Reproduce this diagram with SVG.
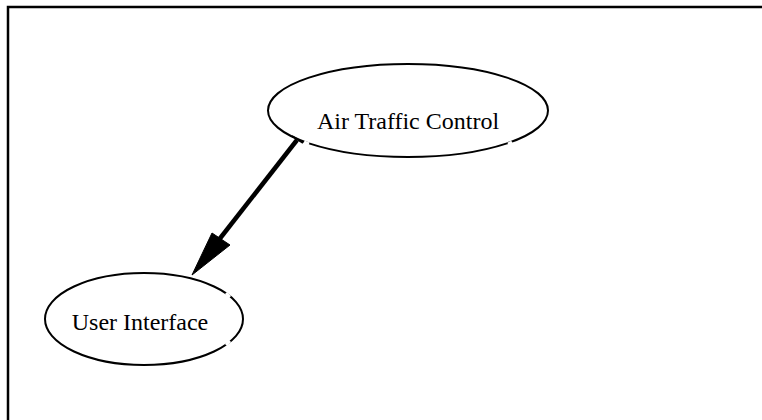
<svg xmlns="http://www.w3.org/2000/svg" width="762" height="420" viewBox="0 0 762 420">
  <style>
    .frame { fill: none; stroke: #000; stroke-width: 2.5; }
    .node ellipse { fill: #fff; stroke: #000; stroke-width: 2; }
    .node text { font-family: "Liberation Serif", "Times New Roman", serif; font-size: 24px; fill: #000; text-anchor: middle; }
    .edge { stroke: #000; stroke-width: 4.5; fill: none; }
    .head { fill: #000; stroke: #000; stroke-width: 1; }
    .gap { stroke: #fff; stroke-width: 3; }
  </style>

  <!-- open frame: top and left sides only -->
  <path class="frame" d="M 8 420 L 8 7 L 762 7"/>

  <g id="node-air-traffic-control" class="node">
    <ellipse cx="408" cy="110.5" rx="140" ry="46.5"/>
    <line class="gap" x1="304" y1="142" x2="309" y2="144"/>
    <line class="gap" x1="508" y1="144" x2="512" y2="142"/>
    <text x="408" y="129">Air Traffic Control</text>
  </g>

  <g id="node-user-interface" class="node">
    <ellipse cx="144" cy="319" rx="99" ry="46"/>
    <line class="gap" x1="226" y1="293" x2="230" y2="297"/>
    <line class="gap" x1="226" y1="345" x2="230" y2="341"/>
    <text x="140" y="330">User Interface</text>
  </g>

  <g id="connectors">
    <!-- Air Traffic Control -> User Interface -->
    <line class="edge" x1="297" y1="140" x2="218" y2="241"/>
    <line stroke="#000" stroke-width="2" x1="292" y1="136" x2="303" y2="143"/>
    <polygon class="head" points="192,275 212,233 230,245"/>
  </g>
</svg>
